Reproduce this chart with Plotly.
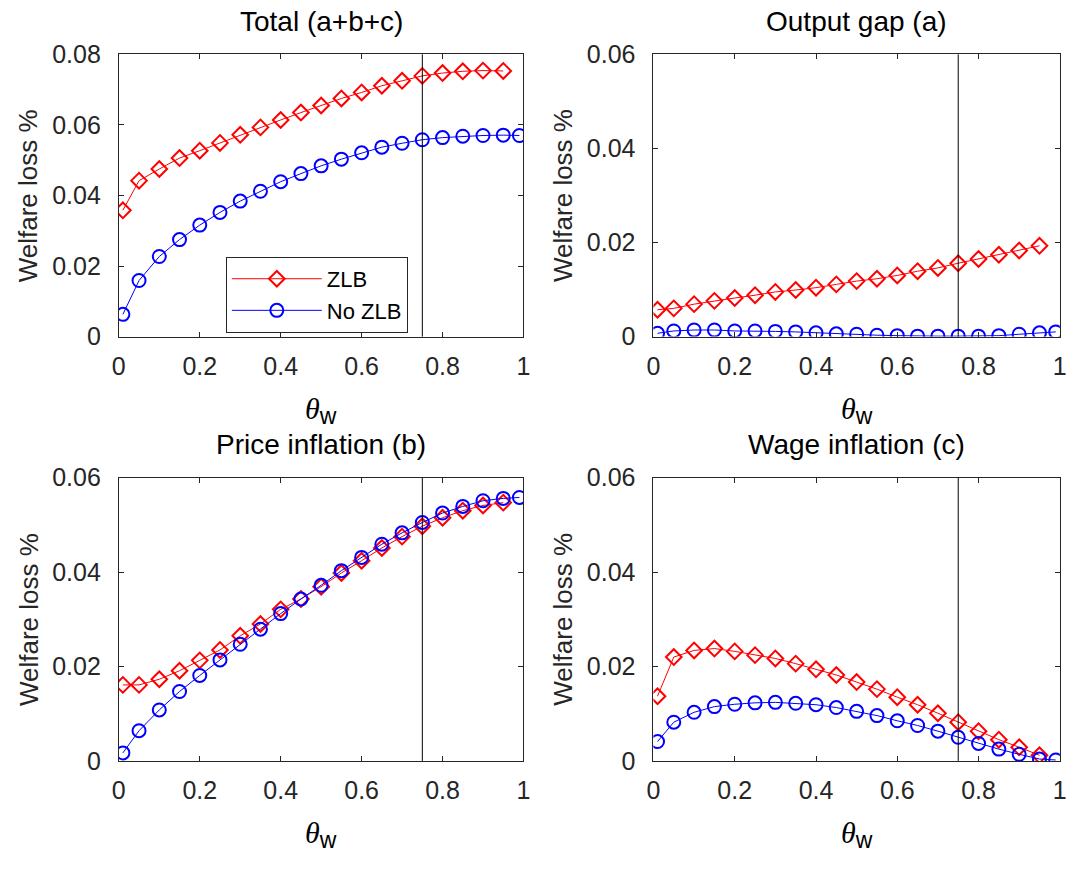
import plotly.graph_objects as go

# ---------------- data ----------------
theta_zlb = [0.01, 0.05, 0.10, 0.15, 0.20, 0.25, 0.30, 0.35, 0.40, 0.45,
             0.50, 0.55, 0.60, 0.65, 0.70, 0.75, 0.80, 0.85, 0.90, 0.95]
theta_nozlb = theta_zlb + [0.99]

total_zlb = [0.0358, 0.0442, 0.0475, 0.0506, 0.0527, 0.0549, 0.0572, 0.0593, 0.0614, 0.0635,
             0.0655, 0.0675, 0.0692, 0.0711, 0.0725, 0.0739, 0.0747, 0.0752, 0.0754, 0.0753]
total_nozlb = [0.0063, 0.0159, 0.0227, 0.0275, 0.0316, 0.0352, 0.0384, 0.0412, 0.0439, 0.0462,
               0.0484, 0.0503, 0.0521, 0.0537, 0.0548, 0.0558, 0.0564, 0.0568, 0.0570, 0.0571, 0.0570]

gap_zlb = [0.0057, 0.0060, 0.0069, 0.0076, 0.0082, 0.0088, 0.0095, 0.0099, 0.0104, 0.0111,
           0.0118, 0.0123, 0.0130, 0.0139, 0.0146, 0.0156, 0.0165, 0.0174, 0.0183, 0.0193]
gap_nozlb = [0.0007, 0.0012, 0.0014, 0.0014, 0.0012, 0.0012, 0.0011, 0.0010, 0.0008, 0.0006,
             0.0005, 0.0003, 0.0002, 0.0001, 0.0001, 0.0001, 0.0001, 0.0002, 0.0005, 0.0008, 0.0010]

price_zlb = [0.0161, 0.0161, 0.0173, 0.0191, 0.0213, 0.0235, 0.0265, 0.0290, 0.0321, 0.0343,
             0.0369, 0.0398, 0.0424, 0.0451, 0.0475, 0.0497, 0.0515, 0.0530, 0.0541, 0.0547]
price_nozlb = [0.0017, 0.0064, 0.0108, 0.0147, 0.0181, 0.0214, 0.0247, 0.0279, 0.0312, 0.0343,
               0.0372, 0.0403, 0.0431, 0.0459, 0.0483, 0.0505, 0.0525, 0.0539, 0.0551, 0.0556, 0.0558]

wage_zlb = [0.0137, 0.0220, 0.0234, 0.0238, 0.0232, 0.0224, 0.0217, 0.0206, 0.0194, 0.0182,
            0.0167, 0.0152, 0.0135, 0.0119, 0.0101, 0.0082, 0.0063, 0.0045, 0.0029, 0.0012]
wage_nozlb = [0.0041, 0.0082, 0.0103, 0.0115, 0.0120, 0.0123, 0.0124, 0.0122, 0.0119, 0.0113,
              0.0105, 0.0096, 0.0085, 0.0075, 0.0063, 0.0050, 0.0037, 0.0025, 0.0014, 0.0004, 0.0002]

titles = ["Total (a+b+c)", "Output gap (a)", "Price inflation (b)", "Wage inflation (c)"]
y_max = [0.08, 0.06, 0.06, 0.06]
x_ticks = [0, 0.2, 0.4, 0.6, 0.8, 1]
theta_ref = 0.75
series_names = ["ZLB", "No ZLB"]

panels = [(total_zlb, total_nozlb), (gap_zlb, gap_nozlb),
          (price_zlb, price_nozlb), (wage_zlb, wage_nozlb)]

# ---------------- layout geometry ----------------
W, H = 1075, 872
FONT = "Liberation Sans, Arial, sans-serif"
AX = "#262626"

xdoms = [(113.3 / W, 523.3 / W), (655 / W, 1066.7 / W)]
ydoms = [(1 - 333.3 / H, 1 - 41.7 / H), (1 - 771.7 / H, 1 - 479 / H)]

fig = go.Figure()
layout = dict(
    width=W, height=H, margin=dict(l=0, r=0, t=0, b=0),
    paper_bgcolor="white", plot_bgcolor="white",
    font=dict(family=FONT, color=AX, size=24),
    showlegend=True,
    legend=dict(x=221.7 / W, y=1 - 251 / H, xanchor="left", yanchor="top",
                bordercolor=AX, borderwidth=1, bgcolor="white",
                font=dict(family=FONT, size=22, color="black"),
                itemwidth=90, tracegroupgap=0),
    annotations=[], shapes=[],
)

for i, (zlb, nozlb) in enumerate(panels):
    r, c = divmod(i, 2)
    n = i + 1
    xa = "x" if n == 1 else f"x{n}"
    ya = "y" if n == 1 else f"y{n}"
    fig.add_trace(go.Scatter(
        x=theta_zlb, y=zlb, xaxis=xa, yaxis=ya, mode="lines+markers",
        name=series_names[0], showlegend=(i == 0),
        line=dict(color="#ff0000", width=1),
        marker=dict(symbol="diamond-open", size=12, color="#ff0000", line=dict(width=2, color="#ff0000")),
    ))
    fig.add_trace(go.Scatter(
        x=theta_nozlb, y=nozlb, xaxis=xa, yaxis=ya, mode="lines+markers",
        name=series_names[1], showlegend=(i == 0),
        line=dict(color="#0000ff", width=1),
        marker=dict(symbol="circle-open", size=13, color="#0000ff", line=dict(width=2, color="#0000ff")),
    ))
    xkey = "xaxis" if n == 1 else f"xaxis{n}"
    ykey = "yaxis" if n == 1 else f"yaxis{n}"
    layout[xkey] = dict(
        domain=list(xdoms[c]), anchor=ya, range=[0, 1], tickvals=x_ticks,
        ticks="inside", ticklen=5, tickcolor=AX, showline=True, linecolor=AX, linewidth=1,
        mirror="ticks", showgrid=False, zeroline=False,
        tickfont=dict(size=25, color=AX), ticklabelstandoff=7,
    )
    layout[ykey] = dict(
        domain=list(ydoms[r]), anchor=xa, range=[0, y_max[i]], dtick=0.02, tick0=0,
        ticks="inside", ticklen=5, tickcolor=AX, showline=True, linecolor=AX, linewidth=1,
        mirror="ticks", showgrid=False, zeroline=False,
        tickfont=dict(size=25, color=AX), ticklabelstandoff=12,
    )
    # vertical reference line
    layout["shapes"].append(dict(type="line", xref=xa, yref=f"{ya} domain",
                                 x0=theta_ref, x1=theta_ref, y0=0, y1=1,
                                 line=dict(color="black", width=1)))
    # title
    layout["annotations"].append(dict(text=titles[i], xref=f"{xa} domain", yref=f"{ya} domain",
                                      x=0.5, y=1, yshift=33, xanchor="center", yanchor="middle",
                                      showarrow=False, font=dict(size=28, color="black", family=FONT)))
    # y label
    layout["annotations"].append(dict(text="Welfare loss %", xref=f"{xa} domain", yref=f"{ya} domain",
                                      x=0, y=0.5, xshift=-90, xanchor="center", yanchor="middle",
                                      textangle=-90, showarrow=False,
                                      font=dict(size=26, color=AX, family=FONT)))
    # x label
    layout["annotations"].append(dict(
        text="<span style='font-family:Liberation Serif;font-style:italic;font-size:30px'>θ</span>"
             "<sub><span style='font-size:23px'>w</span></sub>",
        xref=f"{xa} domain", yref=f"{ya} domain",
        x=0.5, y=0, yshift=-74, xanchor="center", yanchor="middle",
        showarrow=False, font=dict(size=25, color="black", family=FONT)))

fig.update_layout(**layout)
fig.write_html("out.html")
